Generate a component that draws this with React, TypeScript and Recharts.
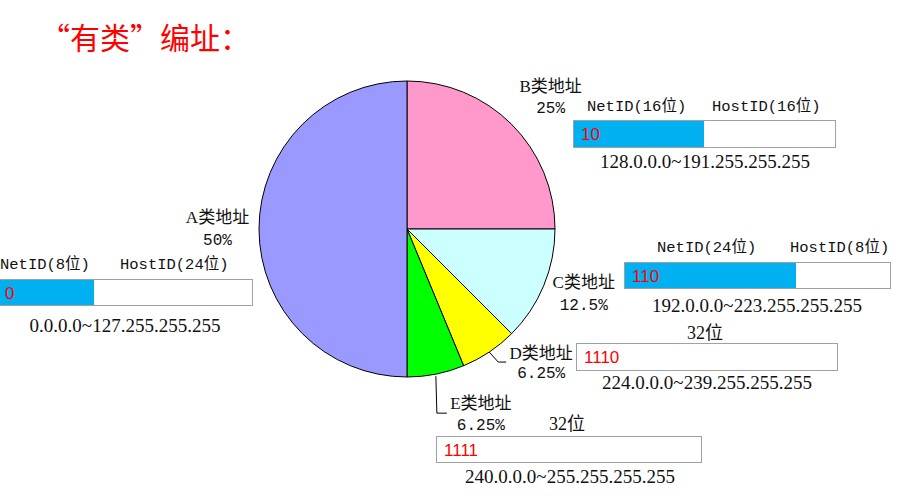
import React from 'react';
import { PieChart, Pie, Cell } from 'recharts';

// slices, clockwise from 12 o'clock
const classNames = ['B类地址', 'C类地址', 'D类地址', 'E类地址', 'A类地址'];
const shares = [25, 12.5, 6.25, 6.25, 50];
const shareLabels = ['25%', '12.5%', '6.25%', '6.25%', '50%'];
const sliceColors = ['#FF99CC', '#CCFFFF', '#FFFF00', '#00FF00', '#9999FF'];

// address format boxes
const prefixBits = ['10', '110', '1110', '1111', '0'];
const netHeaders = ['NetID(16位)', 'NetID(24位)', '32位', '32位', 'NetID(8位)'];
const hostHeaders = ['HostID(16位)', 'HostID(8位)', '', '', 'HostID(24位)'];
const addrRanges = [
  '128.0.0.0~191.255.255.255',
  '192.0.0.0~223.255.255.255',
  '224.0.0.0~239.255.255.255',
  '240.0.0.0~255.255.255.255',
  '0.0.0.0~127.255.255.255',
];

const data = classNames.map((name, i) => ({
  name,
  value: shares[i],
  pct: shareLabels[i],
  color: sliceColors[i],
}));

// label placement relative to the point on the rim at midAngle
const labelPos: Record<string, { dx: number; dy1: number; dy2: number; leader?: number[][] }> = {
  'B类地址': { dx: 39, dy1: -38, dy2: -15 },
  'C类地址': { dx: 40, dy1: -3, dy2: 20 },
  'D类地址': { dx: 52, dy1: 1, dy2: 22, leader: [[0, 0], [9, 10], [17, 10]] },
  'E类地址': { dx: 45, dy1: 29, dy2: 52, leader: [[0, 2], [1, 39], [11, 39]] },
  'A类地址': { dx: -41.5, dy1: -12, dy2: 12 },
};

// box layout (px in page)
const boxLayout = [
  { left: 573, top: 120, width: 263, height: 28, net: 131, netX: 587, hostX: 712, headY: 108, rangeX: 705, rangeY: 161 },
  { left: 624, top: 262, width: 267, height: 27, net: 172, netX: 657, hostX: 790, headY: 249, rangeX: 757, rangeY: 305 },
  { left: 576, top: 343, width: 262, height: 28, net: 0, netX: 705, hostX: 0, headY: 333, rangeX: 707, rangeY: 382 },
  { left: 436, top: 436, width: 266, height: 27, net: 0, netX: 567, hostX: 0, headY: 424, rangeX: 570, rangeY: 476 },
  { left: -2, top: 279, width: 255, height: 27, net: 96, netX: 0, hostX: 120, headY: 266, rangeX: 125, rangeY: 325 },
];

const serif = '"Liberation Serif", "Noto Sans CJK SC", serif';
const mono = '"Liberation Mono", "Noto Sans CJK SC", monospace';
const RAD = Math.PI / 180;

function SliceLabel(props: any) {
  const { cx, cy, midAngle, outerRadius, payload } = props;
  const pos = labelPos[payload.name];
  const px = cx + outerRadius * Math.cos(-midAngle * RAD);
  const py = cy + outerRadius * Math.sin(-midAngle * RAD);
  return (
    <g>
      {pos.leader && (
        <polyline
          points={pos.leader.map(([x, y]) => `${px + x},${py + y}`).join(' ')}
          fill="none"
          stroke="#000"
          strokeWidth={1}
        />
      )}
      <text x={px + pos.dx} y={py + pos.dy1} textAnchor="middle" dominantBaseline="central"
        fontFamily={serif} fontSize={17} fill="#111">
        {payload.name}
      </text>
      <text x={px + pos.dx} y={py + pos.dy2} textAnchor="middle" dominantBaseline="central"
        fontFamily={mono} fontSize={16} fill="#111">
        {payload.pct}
      </text>
    </g>
  );
}

function AddrBox({ i }: { i: number }) {
  const b = boxLayout[i];
  const hasHost = hostHeaders[i] !== '';
  const headStyle: React.CSSProperties = {
    position: 'absolute',
    top: b.headY,
    transform: hasHost ? 'translateY(-50%)' : 'translate(-50%, -50%)',
    lineHeight: 1,
    whiteSpace: 'nowrap',
    color: '#111',
    fontFamily: hasHost ? mono : serif,
    fontSize: hasHost ? 15.5 : 18,
  };
  return (
    <>
      <div style={{ ...headStyle, left: b.netX }}>{netHeaders[i]}</div>
      {hasHost && <div style={{ ...headStyle, left: b.hostX }}>{hostHeaders[i]}</div>}
      <div
        style={{
          position: 'absolute',
          left: b.left,
          top: b.top,
          width: b.width,
          height: b.height,
          boxSizing: 'border-box',
          border: '1px solid #a0a0a0',
          background: '#fff',
        }}
      >
        {b.net > 0 && (
          <div style={{ position: 'absolute', left: 0, top: 0, width: b.net - 1, height: '100%', background: '#00B0F0' }} />
        )}
        <div
          style={{
            position: 'absolute',
            left: i === 4 ? 6 : 7,
            top: '50%',
            transform: 'translateY(-50%)',
            lineHeight: 1,
            color: '#FF0000',
            fontFamily: '"Liberation Sans", Arial, sans-serif',
            fontSize: 17,
          }}
        >
          {prefixBits[i]}
        </div>
      </div>
      <div
        style={{
          position: 'absolute',
          left: b.rangeX,
          top: b.rangeY,
          transform: 'translate(-50%, -50%)',
          lineHeight: 1,
          whiteSpace: 'nowrap',
          color: '#111',
          fontFamily: serif,
          fontSize: 19,
        }}
      >
        {addrRanges[i]}
      </div>
    </>
  );
}

export default function App() {
  return (
    <div style={{ position: 'relative', width: 904, height: 496, background: '#fff', overflow: 'hidden' }}>
      <style>{`body { margin: 0; }`}</style>
      <div
        style={{
          position: 'absolute',
          left: 40,
          top: 36,
          transform: 'translateY(-50%)',
          lineHeight: 1,
          color: '#FF0000',
          fontFamily: '"Noto Sans CJK SC", sans-serif',
          fontSize: 30,
          whiteSpace: 'nowrap',
        }}
      >
        “有类”编址：
      </div>
      <div style={{ position: 'absolute', left: 0, top: 0 }}>
        <PieChart width={904} height={496} margin={{ top: 0, right: 0, bottom: 0, left: 0 }}>
          <Pie
            data={data}
            dataKey="value"
            nameKey="name"
            cx={407}
            cy={229}
            outerRadius={148}
            startAngle={90}
            endAngle={-270}
            stroke="#000"
            strokeWidth={1}
            label={SliceLabel}
            labelLine={false}
            isAnimationActive={false}
          >
            {data.map((d) => (
              <Cell key={d.name} fill={d.color} />
            ))}
          </Pie>
        </PieChart>
      </div>
      {classNames.map((_, i) => (
        <AddrBox key={i} i={i} />
      ))}
    </div>
  );
}
